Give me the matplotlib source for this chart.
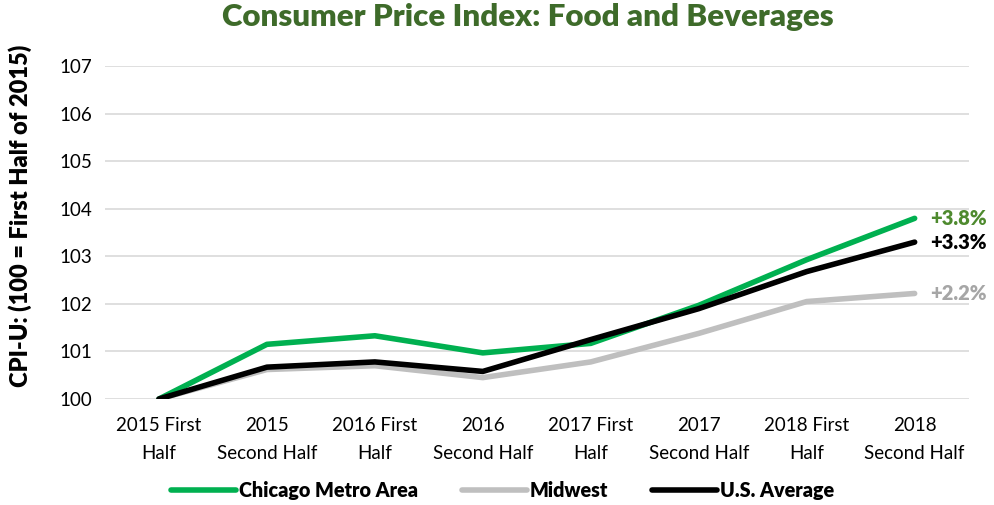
import matplotlib.pyplot as plt

periods = ['2015 First\nHalf', '2015\nSecond Half', '2016 First\nHalf', '2016\nSecond Half',
           '2017 First\nHalf', '2017\nSecond Half', '2018 First\nHalf', '2018\nSecond Half']
chicago = [100, 101.15, 101.33, 100.97, 101.17, 101.97, 102.93, 103.8]
midwest = [100, 100.62, 100.70, 100.45, 100.78, 101.38, 102.05, 102.22]
us_avg = [100, 100.67, 100.78, 100.58, 101.25, 101.9, 102.68, 103.3]
end_labels = ['+3.8%', '+2.2%', '+3.3%']

plt.rcParams['font.family'] = ['Lato', 'DejaVu Sans']

fig = plt.figure(figsize=(9.95, 5.05), dpi=100)
ax = fig.add_axes([0.1055, 0.2099, 0.868, 0.659])

x = range(len(periods))
ax.plot(x, chicago, color='#00B050', lw=4, solid_capstyle='round', label='Chicago Metro Area', zorder=3)
ax.plot(x, midwest, color='#BFBFBF', lw=4, solid_capstyle='round', label='Midwest', zorder=2)
ax.plot(x, us_avg, color='black', lw=4, solid_capstyle='round', label='U.S. Average', zorder=4)

for vals, lab, col in [(chicago, end_labels[0], '#4E8A2E'), (midwest, end_labels[1], '#A6A6A6'),
                       (us_avg, end_labels[2], 'black')]:
    ax.annotate(lab, (x[-1], vals[-1]), xytext=(11, 0), textcoords='offset points',
                va='center', ha='left', fontsize=14.5, fontweight='heavy', color=col,
                annotation_clip=False)

ax.set_xlim(-0.5, len(periods) - 0.5)
ax.set_ylim(100, 107)
ax.set_yticks(range(100, 108))
ax.set_xticks(list(x))
ax.set_xticklabels(periods, fontsize=13.5, linespacing=1.75)
ax.tick_params(axis='y', labelsize=13.5, length=0, pad=9)
ax.tick_params(axis='x', length=0, pad=13)
ax.grid(axis='y', color='#D9D9D9', lw=1.2)
ax.set_axisbelow(True)
for s in ax.spines.values():
    s.set_visible(False)

ax.set_ylabel('CPI-U: (100 = First Half of 2015)', fontsize=17, fontweight='heavy', labelpad=8)
ax.yaxis.set_label_coords(-0.085, 0.55)
fig.suptitle('Consumer Price Index: Food and Beverages', fontsize=22.5, fontweight='heavy',
             color='#3E6B2A', x=0.53, y=0.995)

fig.legend(loc='lower center', bbox_to_anchor=(0.505, -0.025), ncol=3, frameon=False,
           prop={'size': 14.2, 'weight': 'heavy'}, handlelength=3.3, handletextpad=0.15,
           columnspacing=2.2)

fig.savefig('out.png', dpi=100)
